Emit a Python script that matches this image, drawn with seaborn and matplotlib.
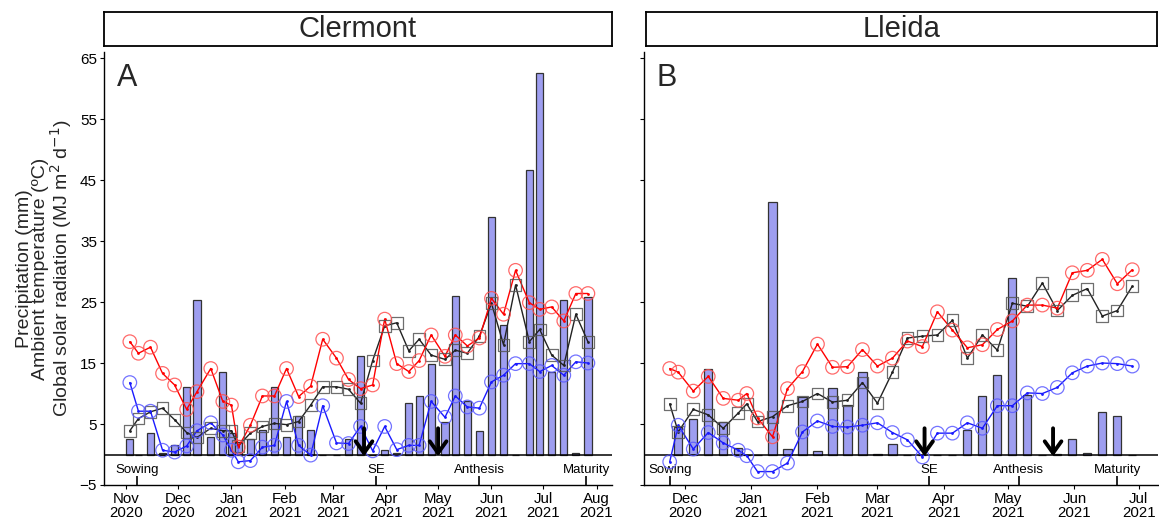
import numpy as np
import pandas as pd
import matplotlib
matplotlib.use("Agg")
import matplotlib.pyplot as plt
import matplotlib.dates as mdates
import seaborn as sns

# ---------------- data ----------------
clermont_dates = ["2020-11-03", "2020-11-08", "2020-11-15", "2020-11-22", "2020-11-29",
                  "2020-12-06", "2020-12-12", "2020-12-20", "2020-12-27", "2021-01-01",
                  "2021-01-05", "2021-01-12", "2021-01-19", "2021-01-26", "2021-02-02",
                  "2021-02-09", "2021-02-16", "2021-02-23", "2021-03-03", "2021-03-10",
                  "2021-03-17", "2021-03-24", "2021-03-31", "2021-04-07", "2021-04-14",
                  "2021-04-20", "2021-04-27", "2021-05-05", "2021-05-11", "2021-05-18",
                  "2021-05-25", "2021-06-01", "2021-06-08", "2021-06-15", "2021-06-23",
                  "2021-06-29", "2021-07-06", "2021-07-13", "2021-07-20", "2021-07-27"]
clermont_prec = [2.5, 0, 3.6, 0.3, 1.5, 11.1, 25.3, 2.8, 13.6, 3.5,
                 2.0, 2.6, 4.0, 11.1, 2.8, 6.3, 4.0, 0, 0, 2.6,
                 16.1, 0, 0.8, 0.3, 8.4, 9.6, 14.8, 5.4, 26.0, 8.8,
                 3.9, 38.9, 21.2, 0, 46.6, 62.5, 13.6, 25.4, 0.3, 25.8]
clermont_tmax = [18.5, 16.6, 17.6, 13.3, 11.4, 7.4, 10.3, 14.1, 8.7, 8.1,
                 1.2, 4.8, 9.6, 9.6, 14.1, 9.5, 11.2, 18.9, 15.8, 12.3,
                 10.8, 11.4, 22.2, 14.9, 13.6, 15.4, 19.6, 16.1, 19.6, 17.8,
                 19.1, 25.6, 23.0, 30.2, 24.9, 23.8, 24.2, 21.9, 26.4, 26.4]
clermont_tmin = [11.8, 7.1, 7.1, 0.7, 0.4, 1.4, 3.9, 5.2, 3.2, 0.7,
                 -1.2, -1.0, 1.2, 1.5, 8.7, 1.5, -0.1, 8.0, 1.9, 1.8,
                 4.6, 0.6, 4.6, 0.8, 1.5, 1.5, 8.7, 6.1, 9.6, 7.8,
                 7.6, 11.9, 13.0, 14.9, 14.9, 13.6, 14.6, 13.0, 15.2, 15.0]
clermont_rad = [3.9, 5.9, 7.0, 7.6, 5.7, 3.6, 2.8, 4.3, 3.9, 3.9,
                1.4, 3.5, 4.6, 5.1, 4.9, 5.4, 8.1, 11.1, 11.1, 10.7,
                8.4, 15.4, 21.1, 21.6, 17.0, 18.9, 16.3, 15.6, 17.1, 16.6,
                19.4, 24.8, 18.0, 27.8, 18.5, 20.5, 16.3, 14.6, 23.0, 18.5]

lleida_dates = ["2020-11-24", "2020-11-28", "2020-12-05", "2020-12-12", "2020-12-19",
                "2020-12-26", "2020-12-30", "2021-01-04", "2021-01-11", "2021-01-18",
                "2021-01-25", "2021-02-01", "2021-02-08", "2021-02-15", "2021-02-22",
                "2021-03-01", "2021-03-08", "2021-03-15", "2021-03-22", "2021-03-29",
                "2021-04-05", "2021-04-12", "2021-04-19", "2021-04-26", "2021-05-03",
                "2021-05-10", "2021-05-17", "2021-05-24", "2021-05-31", "2021-06-07",
                "2021-06-14", "2021-06-21", "2021-06-28"]
lleida_prec = [0, 4.5, 5.8, 14.0, 5.4, 1.0, 0, 0, 41.4, 0.9,
               9.5, 0.5, 10.9, 8.1, 13.6, 0.1, 1.8, 0, 0, 0,
               0, 4.1, 9.6, 13.1, 29.0, 9.8, 0, 0.1, 2.6, 0.2,
               6.9, 6.3, 0]
lleida_tmax = [14.1, 13.5, 10.4, 12.8, 9.2, 8.9, 10.0, 6.0, 2.9, 10.8,
               13.6, 18.1, 14.3, 14.4, 17.2, 14.5, 15.8, 18.6, 17.7, 23.4,
               20.4, 17.5, 18.0, 20.5, 21.9, 24.5, 24.5, 24.0, 29.8, 30.2,
               32.0, 28.0, 30.3]
lleida_tmin = [-1.2, 4.8, 0.9, 3.6, 1.9, 0.7, -0.2, -2.8, -2.8, -1.4,
               3.7, 5.5, 4.6, 4.5, 4.8, 5.2, 3.6, 2.4, -0.4, 3.5,
               3.5, 5.2, 4.3, 8.0, 8.0, 10.1, 10.0, 11.0, 13.4, 14.5,
               15.0, 14.9, 14.5]
lleida_rad = [8.3, 3.7, 7.4, 6.5, 4.3, 6.8, 8.3, 5.4, 6.2, 8.0,
              8.7, 10.0, 8.6, 8.9, 11.8, 8.4, 13.5, 19.1, 19.4, 19.6,
              22.0, 15.8, 19.6, 17.1, 24.8, 24.3, 28.1, 23.6, 26.1, 27.2,
              22.7, 23.6, 27.6]

stage_names = ["Sowing", "SE", "Anthesis", "Maturity"]
clermont_stages = ["2020-11-07", "2021-03-26", "2021-05-25", "2021-07-26"]
lleida_stages = ["2020-11-24", "2021-03-25", "2021-05-06", "2021-06-21"]
clermont_arrows = ["2021-03-19", "2021-05-01"]
lleida_arrows = ["2021-03-23", "2021-05-22"]

sites = ["Clermont", "Lleida"]
panel_letters = ["A", "B"]
xlims = [("2020-10-19", "2021-08-10"), ("2020-11-12", "2021-07-10")]
bar_widths = [4.2, 3.8]
yticks = [-5, 5, 15, 25, 35, 45, 55, 65]

# ---------------- style ----------------
sns.set_theme(style="ticks")
plt.rcParams["font.family"] = ["Liberation Sans", "DejaVu Sans"]

W, H = 1159, 521
fig = plt.figure(figsize=(W / 100, H / 100), dpi=100)

axes_px = [(104, 612), (644, 1158)]
ax_top, ax_bot = 52, 485
strip_px = [(104, 612), (646, 1157)]
strip_top, strip_bot = 12, 46

datasets = [
    (clermont_dates, clermont_prec, clermont_tmax, clermont_tmin, clermont_rad,
     clermont_stages, clermont_arrows),
    (lleida_dates, lleida_prec, lleida_tmax, lleida_tmin, lleida_rad,
     lleida_stages, lleida_arrows),
]

for i, (dates, prec, tmax, tmin, rad, stages, arrows) in enumerate(datasets):
    x0, x1 = axes_px[i]
    ax = fig.add_axes([x0 / W, 1 - ax_bot / H, (x1 - x0) / W, (ax_bot - ax_top) / H])
    df = pd.DataFrame({"date": pd.to_datetime(dates), "prec": prec,
                       "tmax": tmax, "tmin": tmin, "rad": rad})

    ax.bar(df["date"], df["prec"], width=bar_widths[i], color="#9e9ef0",
           edgecolor="#333333", linewidth=0.9, zorder=1)
    ax.axhline(0, color="black", lw=1.1, zorder=2)

    for col, lc, mc, mk, ms in [("rad", "#222222", "#555555", "s", 72),
                                ("tmax", "#ff0000", "#ff5050", "o", 95),
                                ("tmin", "#1a1aff", "#5a5aff", "o", 95)]:
        sns.lineplot(data=df, x="date", y=col, ax=ax, color=lc, lw=1.0,
                     marker=".", markersize=4, markeredgewidth=0, zorder=3)
        sns.scatterplot(data=df, x="date", y=col, ax=ax, marker=mk, s=ms,
                        facecolors="none", edgecolor=mc, linewidth=0.9,
                        alpha=0.85, zorder=4)

    ax.set_xlim(pd.Timestamp(xlims[i][0]), pd.Timestamp(xlims[i][1]))
    ax.set_ylim(-5, 66)
    ax.set_yticks(yticks)
    ax.xaxis.set_major_locator(mdates.MonthLocator())
    ax.xaxis.set_major_formatter(mdates.DateFormatter("%b\n%Y"))
    ax.tick_params(axis="x", labelsize=10.8, length=3, width=0.8, colors="black", pad=2)
    ax.tick_params(axis="y", labelsize=11, length=3, width=0.8, colors="black", pad=2)
    for lab in ax.get_xticklabels():
        lab.set_linespacing(1.05)
    ax.set_xlabel("")
    ax.set_ylabel("")
    for s in ["top", "right"]:
        ax.spines[s].set_visible(False)
    for s in ["left", "bottom"]:
        ax.spines[s].set_color("black")
        ax.spines[s].set_linewidth(1.0)

    # stage markers
    for name, d in zip(stage_names, stages):
        dt = pd.Timestamp(d)
        ax.vlines(dt, -5, -3.6, color="black", lw=1.2, zorder=5)
        ax.text(dt, -2.6, name, ha="center", va="center", fontsize=9.5, color="black")
    # arrows
    for d in arrows:
        dt = pd.Timestamp(d)
        ax.annotate("", xy=(dt, -0.3), xytext=(dt, 4.3),
                    arrowprops=dict(arrowstyle="->,head_length=0.7,head_width=0.5",
                                    lw=2.8, color="black", shrinkA=0, shrinkB=0),
                    zorder=6)

    ax.text(0.025, 0.975, panel_letters[i], transform=ax.transAxes, fontsize=22,
            ha="left", va="top")

    if i == 0:
        ax.set_ylabel("Precipitation (mm)\nAmbient temperature (ºC)\n"
                      "Global solar radiation (MJ m$^{2}$ d$^{-1}$)",
                      fontsize=14, linespacing=0.95, labelpad=4)
    else:
        ax.tick_params(axis="y", labelleft=False)

    # facet strip
    sx0, sx1 = strip_px[i]
    sax = fig.add_axes([sx0 / W, 1 - strip_bot / H, (sx1 - sx0) / W,
                        (strip_bot - strip_top) / H])
    sax.set_xticks([])
    sax.set_yticks([])
    sax.set_facecolor("white")
    for s in sax.spines.values():
        s.set_visible(True)
        s.set_color("black")
        s.set_linewidth(1.3)
    sax.text(0.5, 0.5, sites[i], ha="center", va="center", fontsize=21,
             transform=sax.transAxes)

fig.savefig("out.png", dpi=100)
